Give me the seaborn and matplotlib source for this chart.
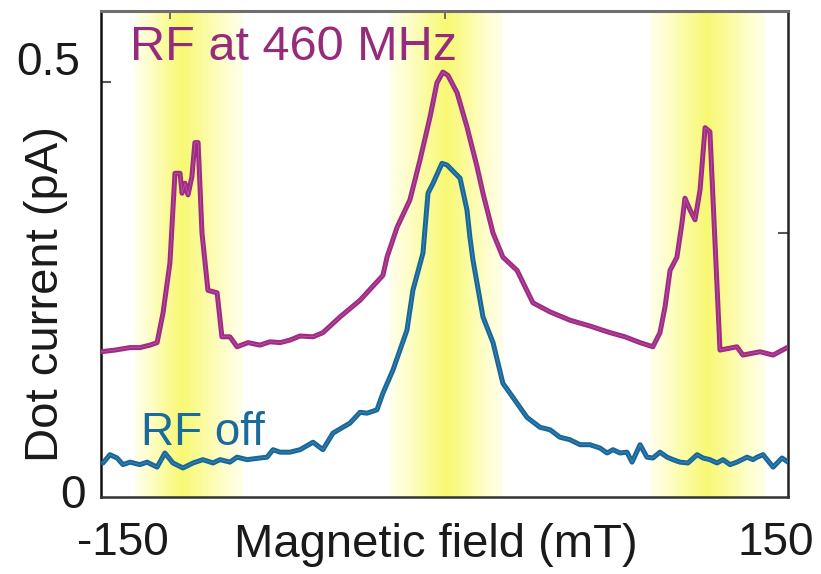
import numpy as np
import pandas as pd
import matplotlib
matplotlib.use("Agg")
import matplotlib.pyplot as plt
import seaborn as sns
from matplotlib.colors import LinearSegmentedColormap

# Magnetic field sweep (mT) and dot current (pA) with RF applied at 460 MHz
field_rf_on = [-150.0, -143.9, -137.3, -133.0, -128.6, -125.5, -122.9, -119.9, -117.7, -115.5,
               -114.6, -113.3, -112.0, -110.3, -109.0, -107.6, -105.9, -103.3, -99.3, -97.2,
               -93.7, -90.6, -85.8, -80.6, -76.2, -71.8, -67.5, -63.1, -57.4, -53.1,
               -45.6, -36.9, -26.9, -25.1, -20.7, -15.1, -10.7, -6.3, -3.3, -0.7,
               1.5, 5.5, 9.8, 14.2, 16.8, 21.2, 25.5, 31.7, 38.6, 46.1,
               54.8, 63.5, 72.3, 78.8, 85.4, 91.0, 94.1, 96.3, 98.5, 101.5,
               103.7, 105.0, 107.2, 109.4, 111.6, 113.8, 115.9, 120.3, 127.7, 130.3,
               137.8, 143.5, 149.6]
current_rf_on = [0.175, 0.177, 0.180, 0.180, 0.183, 0.186, 0.222, 0.282, 0.390, 0.390,
                 0.366, 0.378, 0.364, 0.386, 0.427, 0.427, 0.318, 0.249, 0.246, 0.193,
                 0.193, 0.181, 0.186, 0.183, 0.187, 0.186, 0.189, 0.194, 0.193, 0.198,
                 0.217, 0.237, 0.267, 0.289, 0.325, 0.358, 0.406, 0.458, 0.499, 0.512,
                 0.508, 0.487, 0.446, 0.398, 0.366, 0.318, 0.289, 0.273, 0.234, 0.223,
                 0.213, 0.206, 0.198, 0.193, 0.186, 0.181, 0.198, 0.229, 0.273, 0.289,
                 0.330, 0.360, 0.346, 0.334, 0.370, 0.445, 0.440, 0.177, 0.181, 0.171,
                 0.175, 0.171, 0.180]

# Same sweep with the RF switched off
field_rf_off = [-149.1, -146.1, -143.0, -140.4, -137.3, -133.0, -129.9, -125.5, -122.1, -118.6,
                -114.2, -109.8, -105.5, -101.1, -98.0, -93.7, -90.6, -86.2, -80.6, -77.5,
                -74.9, -71.8, -67.5, -63.1, -57.4, -53.1, -48.7, -41.3, -36.9, -33.8,
                -29.5, -26.9, -22.5, -16.4, -13.8, -9.4, -7.2, -5.0, -1.1, 1.1,
                6.8, 9.8, 11.1, 12.4, 16.8, 21.2, 25.5, 29.9, 36.0, 41.7,
                46.1, 50.4, 54.8, 59.2, 63.5, 67.9, 71.0, 73.6, 76.6, 79.7,
                81.9, 85.4, 88.4, 91.0, 94.1, 97.2, 99.8, 102.8, 106.3, 110.3,
                112.9, 115.9, 119.0, 121.6, 124.7, 127.7, 132.1, 134.7, 136.5, 139.1,
                143.5, 147.4, 150.0]
current_rf_off = [0.041, 0.051, 0.047, 0.039, 0.042, 0.039, 0.042, 0.036, 0.053, 0.041,
                  0.035, 0.041, 0.045, 0.041, 0.045, 0.042, 0.048, 0.045, 0.047, 0.048,
                  0.057, 0.054, 0.054, 0.057, 0.066, 0.057, 0.077, 0.089, 0.102, 0.101,
                  0.105, 0.125, 0.153, 0.201, 0.249, 0.294, 0.366, 0.378, 0.402, 0.400,
                  0.384, 0.346, 0.313, 0.286, 0.217, 0.186, 0.137, 0.120, 0.096, 0.084,
                  0.081, 0.072, 0.069, 0.063, 0.063, 0.059, 0.053, 0.057, 0.053, 0.054,
                  0.042, 0.063, 0.048, 0.047, 0.054, 0.048, 0.045, 0.042, 0.041, 0.051,
                  0.047, 0.045, 0.041, 0.045, 0.039, 0.042, 0.048, 0.045, 0.048, 0.051,
                  0.036, 0.047, 0.042]

# Resonance regions: (left edge, centre, right edge) in mT
band_left = [-135.2, -23.8, 89.7]
band_center = [-115.0, 1.1, 114.6]
band_right = [-88.4, 25.5, 140.0]

x_tick_values = [-150, 150]
x_tick_labels = ["-150", "150"]
y_tick_values = [0, 0.5]
y_tick_labels = ["0", "0.5"]

MAGENTA = "#A02A84"
MAGENTA_TEXT = "#962B7C"
BLUE = "#17679A"
BLUE_TEXT = "#1A6A9B"

sns.set_theme(style="white")
plt.rcParams["font.family"] = ["Liberation Sans", "DejaVu Sans"]

W, H = 821, 574
fig = plt.figure(figsize=(W / 100, H / 100), dpi=100)
ax = fig.add_axes([101 / W, 1 - 497 / H, 687 / W, 486 / H])
y_top = 486 / 830
x_lim = (-150, 150)

# Yellow gradient bands marking the resonances
band_cmap = LinearSegmentedColormap.from_list(
    "band", ["#FFFFEC", "#FEFEC8", "#FBFB9C", "#F8F874"])
for left, center, right in zip(band_left, band_center, band_right):
    xs = np.linspace(left, right, 500)
    weight = np.where(xs < center, (xs - left) / (center - left),
                      (right - xs) / (right - center))
    ax.imshow(weight[None, :], cmap=band_cmap, vmin=0, vmax=1,
              extent=[left, right, 0, y_top], aspect="auto",
              interpolation="bilinear", zorder=0)

df_on = pd.DataFrame({"field": field_rf_on, "current": current_rf_on})
df_off = pd.DataFrame({"field": field_rf_off, "current": current_rf_off})

for df, col in [(df_on, MAGENTA), (df_off, BLUE)]:
    sns.lineplot(data=df, x="field", y="current", ax=ax, color=col, lw=3.6,
                 estimator=None, sort=False, zorder=3)
    sns.lineplot(data=df, x="field", y="current", ax=ax, color="white", lw=0.4,
                 alpha=0.3, estimator=None, sort=False, zorder=4)

ax.set_xlim(*x_lim)
ax.set_ylim(0, y_top)
ax.set_xlabel("")
ax.set_ylabel("")
ax.set_xticks([])
ax.set_yticks([0.5])
ax.set_yticklabels([])
ax.tick_params(axis="y", direction="in", length=7, width=1.5, color="#555555", left=True)

top = ax.secondary_xaxis("top")
top.set_xticks([-120, 0])
top.set_xticklabels([])
top.tick_params(direction="in", length=6, width=1.2, color="#555555")
top.spines["top"].set_visible(False)
right = ax.secondary_yaxis("right")
right.set_yticks([0.318])
right.set_yticklabels([])
right.tick_params(direction="in", length=7, width=1.5, color="#555555")
right.spines["right"].set_visible(False)

for name, col, lw in [("left", "#111111", 1.8), ("bottom", "#333333", 1.8),
                      ("right", "#222222", 1.8), ("top", "#6E6E6E", 2.2)]:
    ax.spines[name].set_visible(True)
    ax.spines[name].set_color(col)
    ax.spines[name].set_linewidth(lw)

px = 0.72  # points per pixel at 100 dpi
label_kw = dict(fontsize=33, color="#1A1A1A")

# Tick labels
y_offsets = [(-15, 1), (-21, 19)]
for val, lab, (dx, dy) in zip(y_tick_values, y_tick_labels, y_offsets):
    ax.annotate(lab, xy=(0, val), xycoords=("axes fraction", "data"),
                xytext=(dx * px, dy * px), textcoords="offset points",
                ha="right", va="center", annotation_clip=False, **label_kw)
x_offsets = [(22, -46), (-12, -46)]
for val, lab, (dx, dy) in zip(x_tick_values, x_tick_labels, x_offsets):
    ax.annotate(lab, xy=(val, 0), xycoords=("data", "axes fraction"),
                xytext=(dx * px, dy * px), textcoords="offset points",
                ha="center", va="center", annotation_clip=False, **label_kw)

fig.text(436 / W, 1 - 545 / H, "Magnetic field (mT)", ha="center", va="center",
         fontsize=34, color="#1A1A1A")
fig.text(46 / W, 1 - 294 / H, "Dot current (pA)", ha="center", va="center",
         rotation=90, fontsize=34, color="#1A1A1A")

fig.text(130 / W, 1 - 60 / H, "RF at 460 MHz", ha="left", va="baseline",
         fontsize=35, color=MAGENTA_TEXT)
fig.text(141 / W, 1 - 445 / H, "RF off", ha="left", va="baseline",
         fontsize=33, color=BLUE_TEXT)

fig.savefig("out.png", dpi=100)
